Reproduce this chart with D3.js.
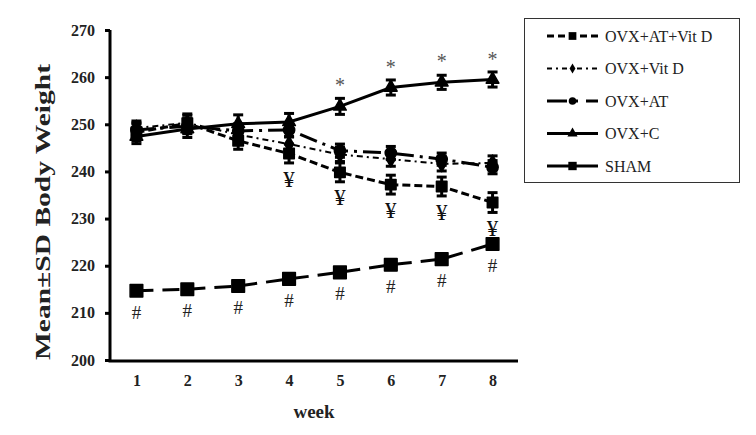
<!DOCTYPE html>
<html>
<head>
<meta charset="utf-8">
<script src="https://cdn.jsdelivr.net/npm/d3@7/dist/d3.min.js"></script>
<style>
  body { margin: 0; background: #fff; }
  svg text { font-family: "Liberation Serif", "Times New Roman", serif !important; }
</style>
</head>
<body>
<div id="mainchart"></div>
<script>
var weeks = [1, 2, 3, 4, 5, 6, 7, 8];
var yTicks = [200, 210, 220, 230, 240, 250, 260, 270];

var seriesNames = ['OVX+AT+Vit D', 'OVX+Vit D', 'OVX+AT', 'OVX+C', 'SHAM'];

var atVitD   = [248.3, 250.2, 246.5, 243.8, 239.8, 237.2, 236.8, 233.4];
var atVitDSd = [1.8, 2.0, 1.8, 2.0, 2.0, 2.0, 2.0, 2.1];
var vitD     = [249.2, 250.3, 247.8, 245.8, 243.6, 242.6, 241.6, 241.8];
var vitDSd   = [1.5, 1.6, 1.5, 1.6, 1.5, 1.5, 1.5, 1.5];
var at       = [248.8, 249.6, 248.6, 248.8, 244.4, 243.9, 242.6, 240.9];
var atSd     = [1.5, 1.6, 1.5, 1.5, 1.4, 1.4, 1.3, 1.4];
var ovxC     = [247.4, 249.0, 250.1, 250.5, 253.8, 257.8, 258.9, 259.5];
var ovxCSd   = [1.5, 1.8, 1.9, 1.8, 1.7, 1.6, 1.5, 1.6];
var sham     = [214.7, 215.0, 215.7, 217.2, 218.6, 220.2, 221.4, 224.6];
var shamSd   = [0.4, 0.4, 0.4, 0.4, 0.4, 0.4, 0.4, 0.9];

// significance marks: which weeks get a symbol
var starWeeks = [5, 6, 7, 8];   // OVX+C vs others
var yenWeeks  = [4, 5, 6, 7, 8]; // OVX+AT+Vit D
var hashWeeks = [1, 2, 3, 4, 5, 6, 7, 8]; // SHAM

var width = 756, height = 435;

var svg = d3.select("#mainchart").append("svg")
  .attr("width", width)
  .attr("height", height);

var x = d3.scalePoint().domain(weeks).range([111, 518]).padding(0.5);
var y = d3.scaleLinear().domain([200, 270]).range([360, 30]);

var styles = [
  { vals: atVitD, sd: atVitDSd, dash: '8,4',        sw: 3,   sym: d3.symbolSquare,   size: 110, lsize: 60 },
  { vals: vitD,   sd: vitDSd,   dash: '6,4,2,4',    sw: 2,   sym: d3.symbolDiamond,  size: 70,  lsize: 30 },
  { vals: at,     sd: atSd,     dash: '18,6,3,6',   sw: 3,   sym: d3.symbolCircle,   size: 100, lsize: 45 },
  { vals: ovxC,   sd: ovxCSd,   dash: null,         sw: 3,   sym: d3.symbolTriangle, size: 70,  lsize: 45 },
  { vals: sham,   sd: shamSd,   dash: '17,9',       sw: 3,   sym: d3.symbolSquare,   size: 160, lsize: 70 }
];

// axes
var yAxis = d3.axisLeft(y).tickValues(yTicks).tickSize(5).tickSizeOuter(0).tickFormat(d3.format("d"));
var xAxis = d3.axisBottom(x).tickSize(0).tickSizeOuter(0);

var gy = svg.append("g")
  .attr("class", "y axis")
  .attr("transform", "translate(110,0)")
  .call(yAxis);
gy.select(".domain").attr("stroke-width", 3).attr("d", "M0,30V361");
gy.selectAll(".tick line").attr("stroke-width", 3);
gy.selectAll(".tick text")
  .attr("x", -15)
  .style("font-size", "16px")
  .style("font-weight", "bold")
  .attr("fill", "#222");

var gx = svg.append("g")
  .attr("class", "x axis")
  .attr("transform", "translate(0,361)")
  .call(xAxis);
gx.select(".domain").attr("stroke-width", 3).attr("d", "M108.5,0H518");
gx.selectAll(".tick text")
  .attr("dy", "1.4em")
  .style("font-size", "16px")
  .style("font-weight", "bold")
  .attr("fill", "#222");

svg.append("text")
  .attr("x", 314).attr("y", 418)
  .attr("text-anchor", "middle")
  .style("font-size", "19px").style("font-weight", "bold")
  .attr("fill", "#222")
  .text("week");

svg.append("text")
  .attr("transform", "translate(50,212) rotate(-90)")
  .attr("text-anchor", "middle")
  .attr("textLength", 296)
  .attr("lengthAdjust", "spacingAndGlyphs")
  .style("font-size", "20px").style("font-weight", "bold")
  .attr("fill", "#222")
  .text("Mean\u00B1SD Body Weight");

// lines
var line = d3.line()
  .x(function(d, i) { return x(weeks[i]); })
  .y(function(d) { return y(d); });

styles.forEach(function(s) {
  svg.append("path")
    .datum(s.vals)
    .attr("fill", "none")
    .attr("stroke", "#000")
    .attr("stroke-width", s.sw)
    .attr("stroke-dasharray", s.dash)
    .attr("d", line);
});

// error bars and markers
styles.forEach(function(s) {
  var g = svg.append("g");
  s.vals.forEach(function(v, i) {
    var cx = x(weeks[i]);
    var top = y(v + s.sd[i]), bot = y(v - s.sd[i]);
    g.append("line").attr("x1", cx).attr("x2", cx).attr("y1", top).attr("y2", bot)
      .attr("stroke", "#000").attr("stroke-width", 3);
    [top, bot].forEach(function(cy) {
      g.append("line").attr("x1", cx - 5).attr("x2", cx + 5).attr("y1", cy).attr("y2", cy)
        .attr("stroke", "#000").attr("stroke-width", 3);
    });
    g.append("path")
      .attr("d", d3.symbol().type(s.sym).size(s.size)())
      .attr("transform", "translate(" + cx + "," + y(v) + ")")
      .attr("fill", "#000")
      .attr("stroke", "#000")
      .attr("stroke-linejoin", "round")
      .attr("stroke-width", 1.5);
  });
});

// significance labels
svg.selectAll("text.star").data(starWeeks).enter().append("text")
  .attr("class", "star")
  .attr("x", function(d) { return x(d); })
  .attr("y", function(d) { return y(ovxC[weeks.indexOf(d)]) - 14; })
  .attr("text-anchor", "middle")
  .style("font-size", "20px")
  .attr("fill", "#555")
  .text("*");

svg.selectAll("text.yen").data(yenWeeks).enter().append("text")
  .attr("class", "yen")
  .attr("x", function(d) { return x(d); })
  .attr("y", function(d) { return y(atVitD[weeks.indexOf(d)]) + 33; })
  .attr("text-anchor", "middle")
  .style("font-size", "23px")
  .attr("fill", "#111")
  .text("\u00A5");

svg.selectAll("text.hash").data(hashWeeks).enter().append("text")
  .attr("class", "hash")
  .attr("x", function(d) { return x(d); })
  .attr("y", function(d) { return y(sham[weeks.indexOf(d)]) + 28; })
  .attr("text-anchor", "middle")
  .style("font-size", "19px")
  .attr("fill", "#222")
  .text("#");

// legend
var legend = svg.append("g");
legend.append("rect")
  .attr("x", 524.5).attr("y", 18.5).attr("width", 215).attr("height", 164)
  .attr("fill", "#fff").attr("stroke", "#333").attr("stroke-width", 1);

var legendDash = ['7,4', '5,4,2,4', '20,8,3,8', null, null];
seriesNames.forEach(function(name, i) {
  var s = styles[i];
  var ly = 36 + i * 32.5;
  legend.append("line")
    .attr("x1", 547).attr("x2", 598).attr("y1", ly).attr("y2", ly)
    .attr("stroke", "#000").attr("stroke-width", s.sw)
    .attr("stroke-dasharray", legendDash[i]);
  legend.append("path")
    .attr("d", d3.symbol().type(s.sym).size(s.lsize)())
    .attr("transform", "translate(572.5," + ly + ")")
    .attr("fill", "#000");
  legend.append("text")
    .attr("x", 605).attr("y", ly + 5.5)
    .style("font-size", "16px")
    .attr("fill", "#222")
    .text(name);
});
</script>
</body>
</html>
